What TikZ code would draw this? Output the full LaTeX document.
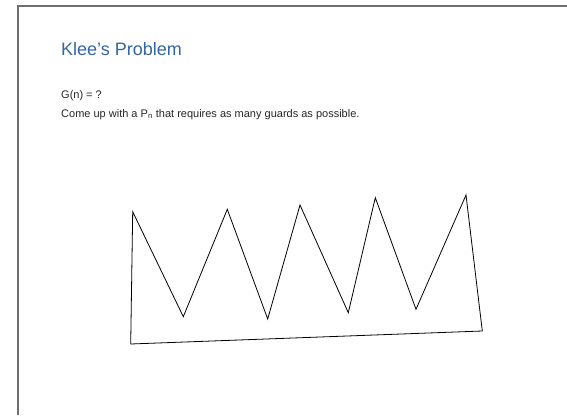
\documentclass[tikz,border=0pt]{standalone}
\usepackage{fontspec}
\setmainfont{Liberation Sans}
\definecolor{titleblue}{RGB}{52,102,162}
\definecolor{framegray}{RGB}{110,110,110}
\begin{document}
\begin{tikzpicture}[x=1pt,y=-1pt,
  frameline/.style={draw=framegray,line width=2pt},
  polyline/.style={draw=black,line width=0.8pt,line join=miter},
  titletext/.style={anchor=base west,inner sep=0pt,text=titleblue,font=\fontsize{18}{20}\selectfont},
  bodytext/.style={anchor=base west,inner sep=0pt,text=black!85,font=\fontsize{11}{13}\selectfont}]
\useasboundingbox (0,0) rectangle (567,415);
\fill[white] (0,0) rectangle (567,415);
% frame
\coordinate (fc) at (17.5,5.5);
\coordinate (fr) at (567,5.5);
\coordinate (fb) at (17.5,415);
\draw[frameline] (fb) -- (fc) -- (fr);
% texts
\node[titletext] (title) at (61,55) {Klee’s Problem};
\node[bodytext] (gn) at (61,98) {G(n) = ?};
\node[bodytext] (come) at (61,117) {Come up with a P\textsubscript{n} that requires as many guards as possible.};
% polygon
\coordinate (p1) at (132.7,211.7);
\coordinate (p2) at (183.3,316.7);
\coordinate (p3) at (227.3,209.3);
\coordinate (p4) at (267.7,319);
\coordinate (p5) at (300,205);
\coordinate (p6) at (348.3,312.7);
\coordinate (p7) at (375.3,197.7);
\coordinate (p8) at (416,309.3);
\coordinate (p9) at (466,195);
\coordinate (p10) at (482.3,331);
\coordinate (p11) at (130.7,344);
\draw[polyline] (p1) -- (p2) -- (p3) -- (p4) -- (p5) -- (p6) -- (p7) -- (p8) -- (p9) -- (p10) -- (p11) -- cycle;
\end{tikzpicture}
\end{document}
